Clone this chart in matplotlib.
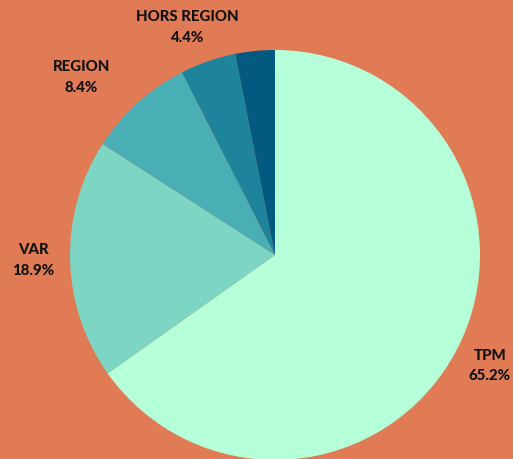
import matplotlib
matplotlib.use("Agg")
import matplotlib.pyplot as plt
import numpy as np

categories = ["TPM", "VAR", "REGION", "HORS REGION", ""]
values = [65.2, 18.9, 8.4, 4.4, 3.1]
colors = ["#B5FFD9", "#7DD6C4", "#4AAFB4", "#1E849C", "#025A80"]
bg = "#E07B56"

W, H = 513, 459
fig = plt.figure(figsize=(W / 100, H / 100), dpi=100, facecolor=bg)
cx, cy, r = 275, 255, 205
ax = fig.add_axes([(cx - r) / W, (H - cy - r) / H, 2 * r / W, 2 * r / H])
ax.set_facecolor(bg)

labels = [f"{c}\n{v}%" if c else "" for c, v in zip(categories, values)]
wedges, texts = ax.pie(values, colors=colors, startangle=90, counterclock=False,
                       labels=labels, labeldistance=1.18,
                       wedgeprops=dict(linewidth=0),
                       textprops=dict(fontsize=10.8, fontweight=900, color="#111111",
                                      family=["Lato", "DejaVu Sans"], linespacing=1.6,
                                      ha="center", va="center"))
for t in texts:
    t.set_horizontalalignment("center")
# per-label placement tweaks (distance, angle offset in degrees)
tweak = {"REGION": (1.28, 5.4), "HORS REGION": (1.19, 2.1), "VAR": (1.18, 0), "TPM": (1.18, 0)}
for w, t, c in zip(wedges, texts, categories):
    if c in tweak:
        d, off = tweak[c]
        ang = np.deg2rad((w.theta1 + w.theta2) / 2 + off)
        t.set_position((d * np.cos(ang), d * np.sin(ang)))
ax.set_xlim(-1, 1)
ax.set_ylim(-1, 1)
ax.set_aspect("equal")
ax.axis("off")
fig.savefig("out.png", dpi=100, facecolor=bg)
